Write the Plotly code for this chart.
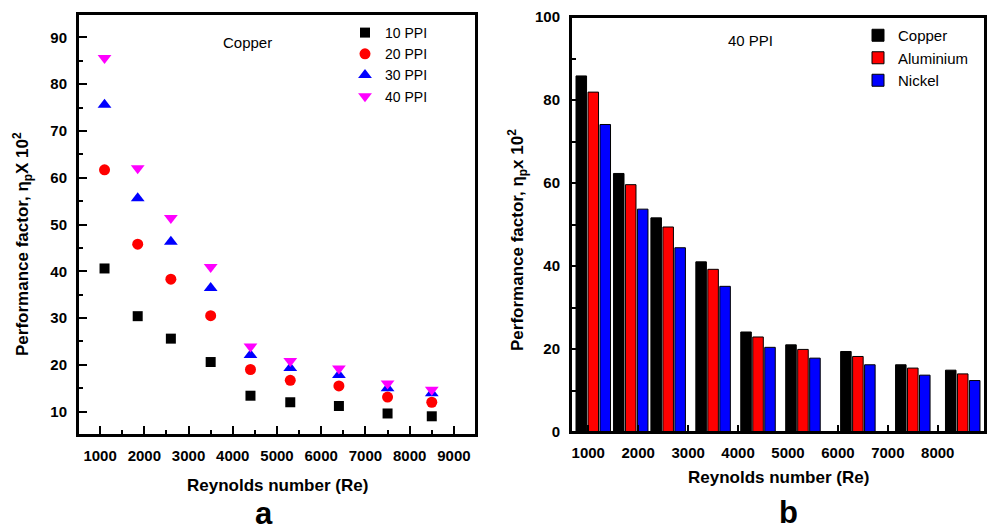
import plotly.graph_objects as go

# Reynolds numbers at which the foams were tested
reynolds = [1100, 1850, 2600, 3500, 4400, 5300, 6400, 7500, 8500]

# (a) copper foam, performance factor x 10^2 by pore density
ppi_10 = [40.6, 30.4, 25.6, 20.6, 13.4, 12.0, 11.2, 9.6, 9.0]
ppi_20 = [61.7, 45.8, 38.3, 30.5, 19.0, 16.7, 15.5, 13.1, 12.0]
ppi_30 = [75.6, 55.6, 46.3, 36.4, 22.1, 19.3, 17.8, 15.0, 13.9]
ppi_40 = [85.6, 62.0, 51.4, 40.9, 23.9, 20.8, 19.2, 16.0, 14.7]

# (b) 40 PPI foam, performance factor x 10^2 by material
copper = [85.8, 62.3, 51.6, 41.0, 24.1, 21.0, 19.4, 16.2, 14.9]
aluminium = [81.9, 59.6, 49.4, 39.2, 22.9, 19.9, 18.2, 15.4, 14.0]
nickel = [74.1, 53.7, 44.4, 35.1, 20.4, 17.8, 16.2, 13.7, 12.4]

W, H = 988, 531
FONT = "Liberation Sans, Arial, sans-serif"


def px(x):
    return x / W


def py(y):
    return 1 - y / H


fig = go.Figure()

scatter_series = [
    ("10 PPI", ppi_10, "square", "black", 10),
    ("20 PPI", ppi_20, "circle", "red", 11),
    ("30 PPI", ppi_30, "triangle-up", "blue", 12),
    ("40 PPI", ppi_40, "triangle-down", "magenta", 12),
]
for name, vals, sym, col, size in scatter_series:
    fig.add_trace(go.Scatter(
        x=reynolds, y=vals, mode="markers", name=name,
        marker=dict(symbol=sym, color=col, size=size, line=dict(width=0)),
        xaxis="x", yaxis="y", legend="legend",
    ))

bar_series = [
    ("Copper", copper, "black"),
    ("Aluminium", aluminium, "red"),
    ("Nickel", nickel, "blue"),
]
for name, vals, col in bar_series:
    fig.add_trace(go.Bar(
        x=reynolds, y=vals, name=name,
        marker=dict(color=col, line=dict(color="black", width=1)),
        xaxis="x2", yaxis="y2", legend="legend2",
    ))

tickfont = dict(family=FONT, size=15, color="black", weight="bold")
axis_common = dict(
    showline=True, linecolor="black", linewidth=2, mirror=True,
    ticks="inside", tickcolor="black", tickwidth=1.5,
    showgrid=False, zeroline=False, tickfont=tickfont, automargin=False,
)

fig.update_layout(
    template="none",
    autosize=False,
    width=W, height=H,
    margin=dict(l=0, r=0, t=0, b=0, pad=0),
    paper_bgcolor="white", plot_bgcolor="white",
    barmode="group", bargap=0.04, bargroupgap=0.12,
    xaxis=dict(
        domain=[px(78), px(476)], range=[500, 9500],
        tick0=1000, dtick=1000, ticklen=9, ticklabelstandoff=6,
        minor=dict(ticks="inside", dtick=500, ticklen=5, tickcolor="black", tickwidth=1.5),
        anchor="y", **axis_common,
    ),
    yaxis=dict(
        domain=[py(435), py(14)], range=[5, 95],
        tick0=10, dtick=10, ticklen=9, ticklabelstandoff=6,
        minor=dict(ticks="inside", dtick=5, ticklen=5, tickcolor="black", tickwidth=1.5),
        anchor="x", **axis_common,
    ),
    xaxis2=dict(
        domain=[px(571), px(985)], range=[654, 8946],
        tick0=1000, dtick=1000, ticklen=7, ticklabelstandoff=6,
        anchor="y2", **axis_common,
    ),
    yaxis2=dict(
        domain=[py(432), py(17)], range=[0, 100],
        tick0=0, dtick=20, ticklen=8, ticklabelstandoff=6,
        minor=dict(ticks="inside", dtick=10, ticklen=5, tickcolor="black", tickwidth=1.5),
        anchor="x2", **axis_common,
    ),
    legend=dict(
        x=px(345), y=py(17), xanchor="left", yanchor="top",
        bgcolor="rgba(0,0,0,0)", borderwidth=0,
        font=dict(family=FONT, size=14, color="black"),
        tracegroupgap=0, itemwidth=30,
    ),
    legend2=dict(
        x=px(858), y=py(19), xanchor="left", yanchor="top",
        bgcolor="rgba(0,0,0,0)", borderwidth=0,
        font=dict(family=FONT, size=15, color="black"),
        tracegroupgap=0, itemwidth=30,
    ),
)

# closed frame around each panel
for xr, yr in (("x", "y"), ("x2", "y2")):
    fig.add_shape(
        type="rect", xref=f"{xr} domain", yref=f"{yr} domain",
        x0=0, x1=1, y0=0, y1=1,
        line=dict(color="black", width=2), fillcolor="rgba(0,0,0,0)", layer="above",
    )

title_font = dict(family=FONT, size=17, color="black", weight="bold")
letter_font = dict(family=FONT, size=31, color="black", weight="bold")
annotations = [
    # axis titles
    dict(x=px(277), y=py(485), text="Reynolds number (Re)", font=title_font),
    dict(x=px(778), y=py(477), text="Reynolds number (Re)", font=title_font),
    dict(x=px(22), y=py(244), text="Performance factor, η<sub>p</sub>X 10<sup>2</sup>",
         font=title_font, textangle=-90),
    dict(x=px(517), y=py(240), text="Performance factor, η<sub>p</sub>x 10<sup>2</sup>",
         font=title_font, textangle=-90),
    # panel notes
    dict(x=px(247), y=py(43), text="Copper", font=dict(family=FONT, size=15, color="black")),
    dict(x=px(750), y=py(40), text="40 PPI", font=dict(family=FONT, size=15, color="black")),
    # panel letters
    dict(x=px(264), y=py(513), text="a", font=letter_font),
    dict(x=px(788), y=py(512), text="b", font=letter_font),
]
for a in annotations:
    a.update(xref="paper", yref="paper", showarrow=False, xanchor="center", yanchor="middle")
fig.update_layout(annotations=annotations)

fig.write_html("out.html")
